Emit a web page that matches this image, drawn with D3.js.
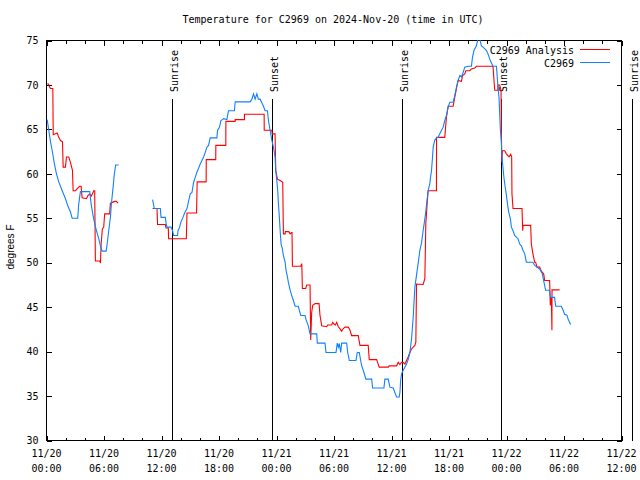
<!DOCTYPE html>
<html>
<head>
<meta charset="utf-8">
<script src="https://cdn.jsdelivr.net/npm/d3@7"></script>
<style>
  html, body { margin: 0; padding: 0; background: #fff; }
  svg { display: block; }
  text { fill: #000; }
</style>
</head>
<body>
<svg id="chart" width="640" height="480"></svg>
<script>
// ---------------- DATA ----------------
// hours since 2024-11-20 00:00 UTC
const obsHours = [0.07,0.24,0.42,0.63,0.83,1.04,1.28,1.64,1.98,2.22,2.5,2.68,3.26,3.36,3.54,4.51,4.66,4.86,5.03,5.21,5.45,5.63,5.8,6.22,6.32,6.49,6.67,6.77,6.95,7.08,7.22,7.53,
  null,
  11.07,11.25,11.88,11.95,12.4,12.5,12.57,12.99,13.16,13.26,13.68,13.72,13.89,14.03,14.24,14.41,14.66,14.82,15.0,15.18,15.34,15.52,15.7,15.86,16.04,16.22,16.39,16.56,16.74,16.91,17.08,17.78,17.85,18.05,18.2,18.36,18.47,18.82,18.99,19.61,19.69,21.25,21.43,21.6,21.77,21.95,22.11,22.29,22.47,22.64,22.81,23.05,23.16,23.33,23.51,23.68,23.85,23.92,24.03,24.13,24.2,24.3,24.38,24.48,24.61,24.72,24.9,25.0,25.14,25.24,25.42,25.59,25.76,25.94,26.28,26.39,26.53,26.98,27.08,27.32,27.5,28.2,28.26,29.06,29.17,30.21,30.34,30.45,30.55,30.7,30.8,31.32,31.43,31.6,32.29,32.43,32.64,32.78,32.89,33.05,33.33,33.93,34.03,35.21,35.31,35.66,35.83,36.18,36.35,36.53,36.8,36.88,36.95,37.05,37.22,37.4,37.57,37.74,37.92,38.09,38.26,38.44,38.61,38.78,38.96,39.13,39.3,39.41,39.55,39.66,39.82,40.0,40.07,40.18,40.28,40.35,40.52,40.7,40.86,41.04,41.22,41.39,41.56,41.74,41.91,42.08,42.43,42.6,42.78,42.95,43.13,43.3,43.47,43.65,43.99,44.34,44.45,44.61,44.86,45.03,45.21,45.38,45.55,45.9,46.07,46.25,46.42,46.59,46.95,47.01,47.11,47.22,47.29,47.36,47.47,47.53,47.64,47.74,47.85,47.99,48.09,48.23,48.41,48.51,48.68,48.85,49.2,49.38,49.55,49.72,49.9,50.07,50.76,50.94,51.18,51.46,51.74,51.8,52.08,52.5,52.57,53.02,53.13,53.72,53.89,54.06,54.3,54.45,54.58,54.69];
const obsTemps = [66.1,64.9,63.6,62.4,61.1,60.0,59.1,58.1,57.2,56.4,55.7,55.0,55.0,56.6,58.0,58.0,56.6,55.3,54.4,53.6,52.7,51.9,51.3,51.3,52.0,53.6,55.1,56.6,58.5,60.0,61.0,61.0,
  null,
  57.1,56.1,56.1,55.1,55.1,54.3,54.0,54.0,53.6,53.06,53.06,53.6,54.0,54.6,55.1,55.6,56.1,56.9,57.75,57.9,59.0,59.6,60.2,60.6,61.1,61.5,61.9,62.4,63.0,63.2,64.05,64.05,64.9,65.25,66.0,66.1,66.2,66.1,67.1,67.1,68.1,68.1,68.4,69.0,68.4,69.0,68.4,68.4,68.0,67.6,67.1,67.1,66.0,64.9,63.8,63.0,61.9,60.4,59.25,58.1,56.6,55.1,53.6,52.1,51.6,50.8,50.06,49.1,48.4,47.8,46.95,46.3,45.75,45.1,45.1,44.6,44.06,44.06,43.6,42.9,42.0,42.0,40.95,40.95,39.9,39.9,40.95,40.5,40.9,39.9,40.95,40.95,39.9,39.0,39.0,39.9,39.9,39.0,38.4,37.9,36.9,36.9,35.9,35.9,36.9,36.9,36.0,35.9,35.4,34.9,34.9,35.4,36.75,37.5,37.9,38.25,38.6,39.1,39.9,41.4,43.8,47.25,48.6,49.9,51.4,52.2,53.6,54.4,55.5,56.6,58.1,58.9,59.6,60.4,61.9,63.0,63.8,64.05,64.1,64.5,64.9,65.25,66.0,66.6,67.5,68.05,68.05,68.8,69.75,70.5,71.06,70.9,71.4,72.0,72.1,72.1,73.1,73.9,74.4,75.2,75.2,74.4,74.25,73.9,73.5,72.9,72.5,72.1,72.1,71.25,69.75,68.6,66.75,65.0,63.4,61.9,60.6,59.5,58.6,57.6,56.7,55.7,54.9,54.0,53.6,53.06,52.7,52.1,51.9,51.4,51.0,50.06,50.06,49.7,49.5,49.3,48.75,48.4,46.9,46.9,46.1,46.1,45.1,45.1,44.7,44.2,44.1,43.6,43.3,43.05];

const anaHours = [0.07,0.21,0.31,0.42,0.66,0.7,1.11,1.28,1.46,1.67,1.74,1.98,2.08,2.32,2.5,2.71,2.78,3.02,3.36,3.47,3.61,3.72,4.17,4.34,4.51,4.69,4.79,4.93,5.03,5.1,5.55,5.63,5.7,5.83,5.97,6.07,6.59,6.67,7.11,7.29,7.47,
  null,
  11.07,11.53,11.59,12.4,12.47,12.71,12.74,14.59,14.66,15.66,15.72,16.66,16.67,17.66,17.67,18.71,18.72,19.68,19.69,20.65,20.66,22.71,22.72,23.51,23.55,23.85,23.92,24.1,24.38,24.65,24.72,24.9,24.93,25.28,25.42,25.56,25.62,25.66,26.53,26.64,26.7,27.05,27.15,27.5,27.57,27.67,27.78,28.02,28.44,28.54,28.72,29.24,29.34,29.76,29.86,30.0,30.14,30.28,30.45,30.63,30.8,30.97,31.15,31.49,31.67,31.84,32.53,32.71,33.57,33.68,34.45,34.61,34.72,35.66,35.76,36.53,36.7,36.88,37.05,37.22,37.4,37.57,37.74,37.92,38.09,38.26,38.44,38.54,38.61,39.3,39.48,39.58,39.72,39.82,40.69,40.7,41.56,41.67,41.74,41.91,42.43,42.6,42.78,42.95,43.3,43.41,43.65,43.75,44.17,44.34,44.69,44.86,46.59,46.77,47.11,47.12,47.29,47.43,47.5,47.57,47.81,47.99,48.26,48.44,48.54,48.57,48.68,49.62,49.69,49.72,50.52,50.59,50.76,50.94,51.04,51.18,51.46,51.63,51.88,51.98,52.5,52.57,52.68,52.74,52.75,53.54];
const anaTemps = [70.1,70.1,69.8,69.6,69.6,64.4,64.6,64.1,63.75,63.6,60.75,60.75,61.9,61.9,61.3,60.4,58.1,58.1,58.5,58.6,58.6,57.3,57.2,57.6,57.7,57.5,57.75,58.1,58.1,50.2,50.2,49.95,52.1,53.8,54.0,55.5,55.5,56.7,56.9,56.9,56.7,
  null,
  56.1,56.1,54.3,54.3,53.9,53.9,52.7,52.7,55.6,55.6,59.1,59.1,61.6,61.6,63.2,63.2,65.9,65.9,66.1,66.1,66.7,66.7,64.9,64.9,64.5,64.5,60.4,59.4,59.25,59.06,53.25,53.25,53.5,53.5,53.25,53.4,53.4,49.6,49.6,49.9,47.1,47.1,47.5,47.5,41.3,44.4,45.2,45.4,45.4,44.06,42.9,42.8,43.0,43.0,43.3,43.1,43.0,43.3,42.8,42.56,42.3,42.6,42.75,42.75,42.4,41.8,41.8,40.7,40.7,39.1,39.1,38.6,38.25,38.25,38.4,38.4,38.8,38.55,38.8,38.8,38.6,39.0,39.4,39.9,40.3,40.5,40.7,41.06,47.6,47.55,48.2,54.4,56.6,58.1,58.1,64.1,64.1,65.6,66.4,67.6,67.6,68.6,69.6,70.5,70.4,71.06,71.25,71.6,71.6,71.8,71.9,72.1,72.1,69.4,69.4,70.0,70.0,69.4,61.3,62.6,62.6,62.25,61.9,62.2,61.9,57.75,56.1,56.1,53.6,54.2,54.2,52.1,51.0,50.06,50.06,49.5,49.5,49.05,48.75,48.0,48.0,45.2,46.1,42.4,46.95,46.95];

const sunHours  = [13.09, 23.51, 37.14, 47.47, 61.1];
const sunLabels = ["Sunrise", "Sunset", "Sunrise", "Sunset", "Sunrise"];

const xMajorTicks = [0, 6, 12, 18, 24, 30, 36, 42, 48, 54, 60];
const xTickDates  = ["11/20","11/20","11/20","11/20","11/21","11/21","11/21","11/21","11/22","11/22","11/22"];
const xTickTimes  = ["00:00","06:00","12:00","18:00","00:00","06:00","12:00","18:00","00:00","06:00","12:00"];
const xMinorTicks = d3.range(0, 61, 2);
const yTicks = [30, 35, 40, 45, 50, 55, 60, 65, 70, 75];

const seriesNames = ["C2969 Analysis", "C2969"];
const seriesColors = ["#ff0000", "#1080ff"];
const titleText = "Temperature for C2969 on 2024-Nov-20 (time in UTC)";
const yLabelText = "degrees F";

// ---------------- CHART ----------------
const svg = d3.select("#chart");
const L = 46.5, R = 621.5, T = 40.5, B = 440.5;
const x = d3.scaleLinear().domain([0, 60]).range([L, R]);
const y = d3.scaleLinear().domain([30, 75]).range([B, T]);
const mono = "'DejaVu Sans Mono', 'Liberation Mono', monospace";

svg.append("rect").attr("width", 640).attr("height", 480).attr("fill", "#fff");

svg.append("defs").append("clipPath").attr("id", "plotclip")
  .append("rect").attr("x", L - 0.5).attr("y", T - 0.5).attr("width", R - L + 1).attr("height", B - T + 1);

// axes ticks (inward, all four sides)
function styleAxis(g) {
  g.select(".domain").remove();
  g.selectAll(".tick line").attr("stroke", "#000").attr("shape-rendering", "crispEdges");
}
svg.append("g").attr("transform", `translate(0,${B})`)
  .call(d3.axisBottom(x).tickValues(xMinorTicks).tickSize(-3).tickFormat(""))
  .call(styleAxis);
svg.append("g").attr("transform", `translate(0,${B})`)
  .call(d3.axisBottom(x).tickValues(xMajorTicks).tickSize(-5).tickFormat(""))
  .call(styleAxis);
svg.append("g").attr("transform", `translate(0,${T})`)
  .call(d3.axisTop(x).tickValues(xMinorTicks).tickSize(-3).tickFormat(""))
  .call(styleAxis);
svg.append("g").attr("transform", `translate(0,${T})`)
  .call(d3.axisTop(x).tickValues(xMajorTicks).tickSize(-5).tickFormat(""))
  .call(styleAxis);

const yAxisL = svg.append("g").attr("transform", `translate(${L},0)`)
  .call(d3.axisLeft(y).tickValues(yTicks).tickSize(-5).tickPadding(8).tickFormat(d3.format("d")))
  .call(styleAxis);
yAxisL.selectAll(".tick text")
  .attr("font-family", mono).attr("font-size", "10px").attr("fill", "#000");
svg.append("g").attr("transform", `translate(${R},0)`)
  .call(d3.axisRight(y).tickValues(yTicks).tickSize(-5).tickFormat(""))
  .call(styleAxis);

// x tick labels (two lines)
const xl = svg.append("g").attr("font-family", mono).attr("font-size", "10px").attr("text-anchor", "middle");
xMajorTicks.forEach((h, i) => {
  const t = xl.append("text").attr("x", x(h)).attr("y", 457);
  t.append("tspan").attr("x", x(h)).attr("y", 457).text(xTickDates[i]);
  t.append("tspan").attr("x", x(h)).attr("y", 472).text(xTickTimes[i]);
});

// frame
svg.append("rect").attr("x", L).attr("y", T).attr("width", R - L).attr("height", B - T)
  .attr("fill", "none").attr("stroke", "#000").attr("shape-rendering", "crispEdges");

// sunrise / sunset
const sun = svg.append("g");
sunHours.forEach((h, i) => {
  const sx = Math.round(x(h)) + 0.5;
  sun.append("line").attr("x1", sx).attr("x2", sx).attr("y1", 99).attr("y2", B)
    .attr("stroke", "#000").attr("shape-rendering", "crispEdges");
  sun.append("text").attr("transform", `translate(${sx + 5},92) rotate(-90)`)
    .attr("font-family", mono).attr("font-size", "10px").attr("text-anchor", "start")
    .text(sunLabels[i]);
});

// data lines
function zip(hs, ts) { return hs.map((h, i) => ({ h, t: ts[i] })); }
const line = d3.line().defined(d => d.h != null && d.t != null).x(d => x(d.h)).y(d => y(d.t));
const plot = svg.append("g").attr("clip-path", "url(#plotclip)");
plot.append("path").datum(zip(anaHours, anaTemps)).attr("d", line)
  .attr("fill", "none").attr("stroke", seriesColors[0]).attr("stroke-width", 1.1);
plot.append("path").datum(zip(obsHours, obsTemps)).attr("d", line)
  .attr("fill", "none").attr("stroke", seriesColors[1]).attr("stroke-width", 1.1);

// legend
const lg = svg.append("g").attr("font-family", mono).attr("font-size", "10px");
seriesNames.forEach((n, i) => {
  const ly = 49.5 + i * 13;
  lg.append("text").attr("x", 574).attr("y", ly + 4).attr("text-anchor", "end").text(n);
  lg.append("line").attr("x1", 580).attr("x2", 610).attr("y1", ly).attr("y2", ly)
    .attr("stroke", seriesColors[i]).attr("shape-rendering", "crispEdges");
});

// title
svg.append("text").attr("x", 333).attr("y", 23).attr("text-anchor", "middle")
  .attr("font-family", mono).attr("font-size", "10px").text(titleText);

// y label
svg.append("text").attr("transform", "translate(14,247) rotate(-90)")
  .attr("text-anchor", "middle").attr("font-family", "'Liberation Sans', Arial, sans-serif")
  .attr("font-size", "10px").text(yLabelText);
</script>
</body>
</html>
